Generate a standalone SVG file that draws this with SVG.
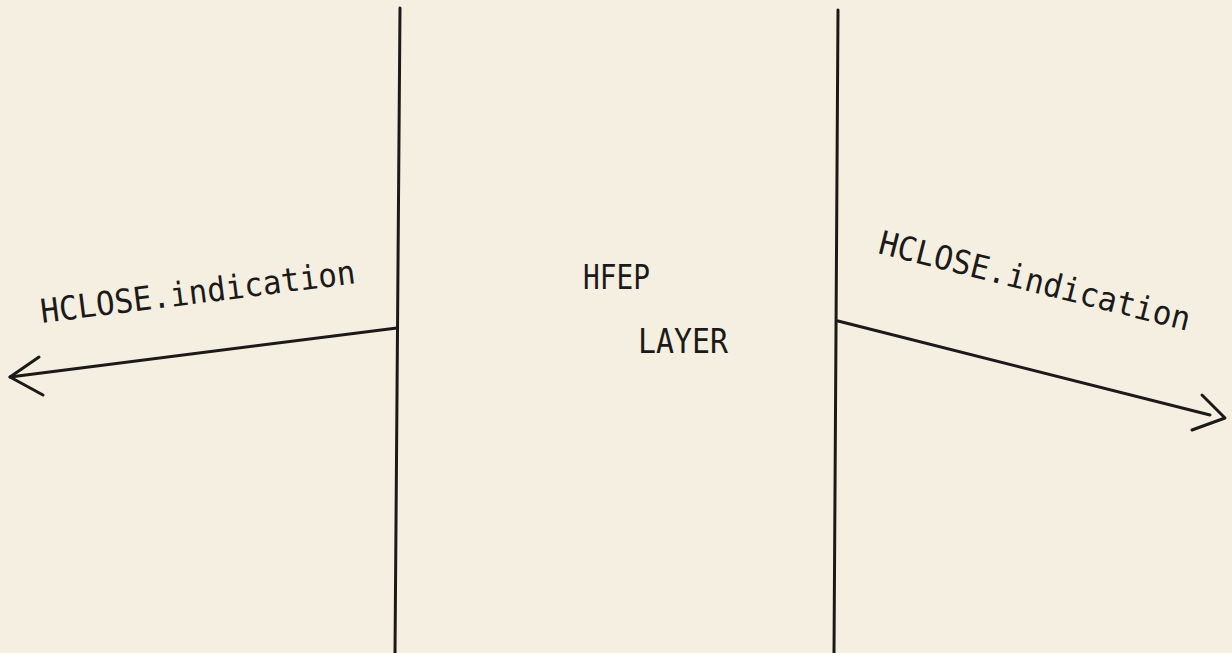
<svg xmlns="http://www.w3.org/2000/svg" width="1232" height="653" viewBox="0 0 1232 653">
<style>
.ln{stroke:#1c1a19;stroke-width:3;fill:none;stroke-linecap:round;stroke-linejoin:round}
.t{font-family:"DejaVu Sans Mono","Liberation Mono",monospace;font-size:33px;fill:#1c1a19}
</style>
<rect width="1232" height="653" fill="#f5efe1"/>
<g id="left-boundary"><line class="ln" x1="400" y1="8" x2="395" y2="653"/></g>
<g id="right-boundary"><line class="ln" x1="838" y1="10" x2="834" y2="653"/></g>
<g id="hfep-layer">
<text class="t" x="583" y="289" textLength="67" lengthAdjust="spacingAndGlyphs">HFEP</text>
<text class="t" x="638" y="353" textLength="90" lengthAdjust="spacingAndGlyphs">LAYER</text>
</g>
<g id="connectors">
<g id="left-indication">
<polyline class="ln" points="397,328 10,377"/>
<polyline class="ln" points="39,357 10,377 43,395"/>
<text class="t" x="42" y="323" textLength="317" lengthAdjust="spacingAndGlyphs" transform="rotate(-7.2 42 323)">HCLOSE.indication</text>
</g>
<g id="right-indication">
<polyline class="ln" points="838,321 1210,415"/>
<polyline class="ln" points="1202,395 1225,418 1192,430"/>
<text class="t" x="877" y="253" textLength="320" lengthAdjust="spacingAndGlyphs" transform="rotate(14.1 877 253)">HCLOSE.indication</text>
</g>
</g>
</svg>
